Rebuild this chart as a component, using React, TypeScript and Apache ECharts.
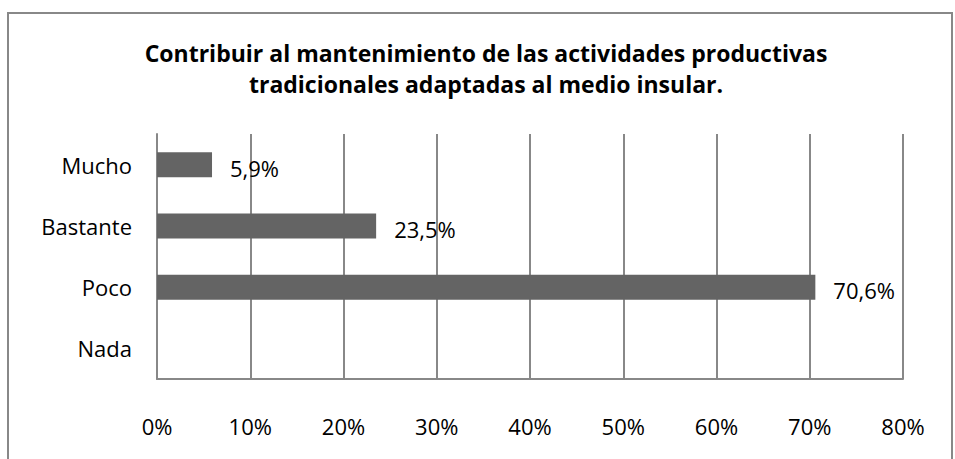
import React, { useEffect, useRef } from "react";
import * as echarts from "echarts";

const categories = ["Mucho", "Bastante", "Poco", "Nada"];
const values: (number | null)[] = [5.9, 23.5, 70.6, null];
const titleLines = [
  "Contribuir al mantenimiento de las actividades productivas",
  "tradicionales adaptadas al medio insular.",
];
const xMin = 0;
const xMax = 80;
const xStep = 10;

const FONT = "'Open Sans', sans-serif";
const GRID = "#888888";

export default function App() {
  const ref = useRef<HTMLDivElement>(null);
  useEffect(() => {
    if (!ref.current) return;
    const chart = echarts.init(ref.current, undefined, { renderer: "svg" });
    chart.setOption({
      animation: false,
      backgroundColor: "#ffffff",
      graphic: [
        {
          type: "rect",
          shape: { x: 8, y: 13, width: 944, height: 470 },
          style: { fill: "none", stroke: GRID, lineWidth: 2 },
          silent: true,
        },
        {
          type: "text",
          x: 486,
          y: 37,
          style: {
            text: titleLines.join("\n"),
            fontFamily: FONT,
            fontWeight: "bold",
            fontSize: 23,
            lineHeight: 31,
            fill: "#000",
            align: "center",
            textAlign: "center",
          },
        },
      ],
      grid: { left: 157, right: 52, top: 134, bottom: 80, containLabel: false },
      xAxis: {
        type: "value",
        min: xMin,
        max: xMax,
        interval: xStep,
        axisLine: { show: true, lineStyle: { color: GRID, width: 2 } },
        axisTick: { show: false },
        splitLine: { show: true, lineStyle: { color: GRID, width: 2 } },
        axisLabel: {
          formatter: "{value}%",
          fontFamily: FONT,
          fontSize: 22,
          color: "#000",
          margin: 36,
        },
      },
      yAxis: {
        type: "category",
        data: categories,
        inverse: true,
        axisLine: { show: true, lineStyle: { color: GRID, width: 2 } },
        axisTick: { show: false },
        splitLine: { show: false },
        axisLabel: {
          fontFamily: FONT,
          fontSize: 22,
          color: "#000",
          margin: 25,
        },
      },
      series: [
        {
          type: "bar",
          data: values,
          barWidth: 25,
          itemStyle: { color: "#646464" },
          label: {
            show: true,
            position: "right",
            distance: 18,
            offset: [0, 3],
            fontFamily: FONT,
            fontSize: 22,
            color: "#000",
            formatter: (p: any) =>
              p.value == null ? "" : Number(p.value).toFixed(1).replace(".", ",") + "%",
          },
        },
      ],
    });
    return () => chart.dispose();
  }, []);
  return (
    <div
      ref={ref}
      style={{ position: "fixed", left: 0, top: 0, width: 955, height: 459 }}
    />
  );
}
